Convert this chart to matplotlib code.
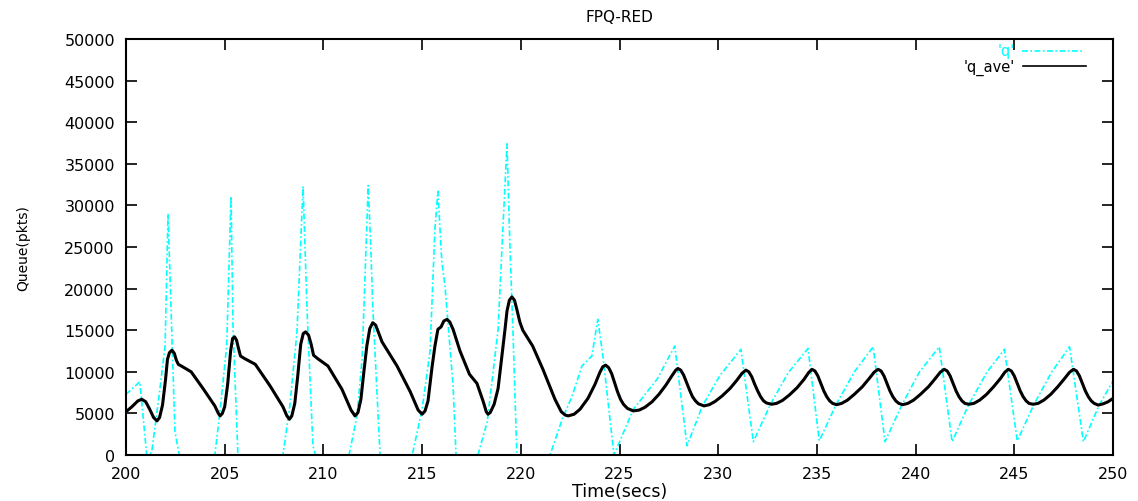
import matplotlib
matplotlib.use("Agg")
import matplotlib.pyplot as plt
from matplotlib.lines import Line2D

# instantaneous queue 'q'
q_t = [200.0, 200.7, 201.05, 201.3, 201.7, 201.98, 202.13, 202.33, 202.48, 202.7,
       204.5, 204.76, 205.1, 205.32, 205.42, 205.67,
       207.95, 208.3, 208.66, 208.97, 209.17, 209.47, 209.6,
       211.3, 211.7, 211.96, 212.27, 212.4, 212.5, 212.87,
       214.5, 215.0, 215.4, 215.65, 215.8, 216.0, 216.16, 216.57, 216.72,
       217.83, 218.3, 218.85, 219.05, 219.3, 219.45, 219.6, 219.8,
       221.48, 222.1, 222.6, 223.1, 223.6, 223.9, 224.16, 224.72,
       225.7, 226.9, 227.8, 228.42, 229.2, 230.1, 231.15,
       231.78, 232.65, 233.55, 234.55, 235.12, 235.98, 236.9, 237.85,
       238.45, 239.3, 240.2, 241.2, 241.85, 242.7, 243.6, 244.5,
       245.15, 246.0, 246.9, 247.8, 248.5, 249.3, 250.0]
q_v = [7300, 8800, 0, 300, 7600, 13100, 29000, 13900, 2800, 0,
       0, 5200, 13100, 31100, 15500, 0,
       0, 5900, 14800, 32300, 17500, 1100, 0,
       0, 4700, 11500, 32400, 25000, 17900, 0,
       0, 5500, 12400, 27200, 31700, 23200, 20300, 8300, 0,
       0, 4000, 15100, 25100, 37400, 25100, 15100, 0,
       0, 4300, 7100, 10700, 11900, 16300, 11900, 0,
       5500, 9100, 13100, 1100, 5900, 9600, 12700,
       1600, 6100, 9900, 12800, 1700, 6100, 10000, 13000,
       1600, 6000, 10000, 13000, 1600, 6100, 9900, 12700,
       1700, 6100, 10000, 13000, 1600, 6000, 8900]

# averaged queue 'q_ave'
qa_t = [200.0, 200.3, 200.6, 200.8, 201.0, 201.2, 201.4, 201.57, 201.7, 201.85,
        202.0, 202.1, 202.2, 202.33, 202.45, 202.55, 202.65, 202.8, 203.3, 203.9,
        204.5, 204.68, 204.77, 204.88, 205.0, 205.15, 205.3, 205.4, 205.5, 205.6,
        205.7, 205.8, 206.0, 206.55, 207.3, 207.95, 208.15, 208.28, 208.4, 208.55,
        208.7, 208.85, 208.98, 209.1, 209.25, 209.38, 209.5, 209.7, 210.23, 210.94,
        211.4, 211.6, 211.75, 211.9, 212.05, 212.2, 212.35, 212.5, 212.65, 212.97,
        213.73, 214.4, 214.8, 215.0, 215.15, 215.3, 215.5, 215.65, 215.8, 215.96,
        216.1, 216.26, 216.4, 216.57, 216.92, 217.4, 217.78, 218.1, 218.25, 218.34,
        218.45, 218.65, 218.85, 219.0, 219.2, 219.3, 219.42, 219.55, 219.68, 219.8,
        219.95, 220.1, 220.6, 221.12, 221.73, 222.05, 222.25, 222.4, 222.7, 223.0,
        223.4, 223.76, 224.0, 224.15, 224.3, 224.45, 224.6, 224.75, 224.9, 225.05,
        225.2, 225.4, 225.7, 226.0, 226.3, 226.65, 227.0, 227.35, 227.65, 227.85,
        227.96, 228.1, 228.25, 228.4, 228.55, 228.7, 228.85, 229.0, 229.28, 229.55,
        229.85, 230.2, 230.6, 230.95, 231.2, 231.4, 231.55, 231.7, 231.85, 232.0,
        232.15, 232.3, 232.45, 232.7, 232.95, 233.25, 233.6, 234.0, 234.35, 234.58,
        234.75, 234.9, 235.05, 235.2, 235.35, 235.5, 235.65, 235.8, 236.0, 236.25,
        236.55, 236.9, 237.3, 237.65, 237.9, 238.1, 238.25, 238.4, 238.55, 238.7,
        238.85, 239.0, 239.15, 239.35, 239.6, 239.9, 240.25, 240.65, 241.0, 241.25,
        241.45, 241.6, 241.75, 241.9, 242.05, 242.2, 242.35, 242.5, 242.7, 242.95,
        243.25, 243.6, 243.95, 244.3, 244.52, 244.7, 244.85, 245.0, 245.15, 245.3,
        245.45, 245.6, 245.75, 245.95, 246.2, 246.5, 246.85, 247.2, 247.55, 247.8,
        248.0, 248.15, 248.3, 248.45, 248.6, 248.75, 248.9, 249.05, 249.25, 249.5,
        249.75, 250.0]
qa_v = [5200, 5800, 6500, 6700, 6400, 5500, 4500, 4100, 4500, 6000,
        9000, 11500, 12300, 12600, 12200, 11400, 10900, 10700, 10000, 8000,
        5900, 5000, 4700, 5000, 5800, 8500, 12500, 14000, 14200, 13800,
        12800, 11900, 11600, 10900, 8300, 5800, 4700, 4300, 4700, 6200,
        9500, 13300, 14600, 14800, 14400, 13300, 12000, 11600, 10700, 7900,
        5400, 4700, 5100, 6700, 10000, 13100, 15200, 15900, 15600, 13600,
        10700, 7600, 5400, 4900, 5300, 6500, 10500, 13100, 15100, 15400,
        16100, 16300, 16000, 15100, 12500, 9700, 8600, 6400, 5200, 4900,
        5100, 6100, 8000, 11000, 15100, 17300, 18600, 19000, 18600, 17500,
        16000, 15000, 13100, 10300, 6700, 5200, 4800, 4700, 4900, 5500,
        6800, 8500, 9900, 10600, 10800, 10500, 9800, 8700, 7600, 6700,
        6100, 5600, 5300, 5400, 5750, 6400, 7300, 8400, 9500, 10200,
        10400, 10200, 9600, 8700, 7800, 7000, 6500, 6150, 5900, 6050,
        6450, 7100, 8000, 9000, 9800, 10200, 10000, 9400, 8500, 7700,
        7000, 6500, 6250, 6100, 6200, 6550, 7200, 8100, 9100, 9900,
        10300, 10100, 9500, 8600, 7700, 7000, 6500, 6200, 6050, 6200,
        6600, 7300, 8200, 9200, 9950, 10300, 10100, 9500, 8600, 7700,
        7000, 6500, 6200, 6050, 6200, 6600, 7300, 8200, 9200, 9950,
        10300, 10100, 9500, 8600, 7700, 7000, 6500, 6200, 6100, 6200,
        6600, 7300, 8200, 9200, 9950, 10300, 10100, 9500, 8600, 7700,
        7000, 6500, 6200, 6100, 6200, 6600, 7300, 8200, 9200, 9950,
        10300, 10100, 9500, 8600, 7700, 7000, 6500, 6200, 6000, 6150,
        6400, 6800]

x_ticks = list(range(200, 251, 5))
y_ticks = list(range(0, 50001, 5000))

CYAN = "#00ffff"
plt.rcParams["font.family"] = ["DejaVu Sans"]

fig = plt.figure(figsize=(11.38, 5.02), dpi=100)
ax = fig.add_axes([126 / 1138, 1 - 456 / 502, 987 / 1138, 416 / 502])

cyan_style = (0, (3.5, 1.5, 1.0, 1.5))
ax.plot(q_t, q_v, color=CYAN, lw=1.2, linestyle=cyan_style)
ax.plot(qa_t, qa_v, color="black", lw=2.2, solid_joinstyle="round")

ax.set_xlim(200, 250)
ax.set_ylim(0, 50000)
ax.set_xticks(x_ticks)
ax.set_yticks(y_ticks)
ax.tick_params(direction="in", length=8, width=1.2, top=True, right=True,
               labelsize=11.5, pad=8)
for sp in ax.spines.values():
    sp.set_linewidth(1.5)

ax.set_title("FPQ-RED", fontsize=11, pad=13)
ax.set_xlabel("Time(secs)", fontsize=12.5, labelpad=1)
ax.set_ylabel("Queue(pkts)", fontsize=10)
ax.yaxis.set_label_coords(-0.097, 0.5)

# gnuplot-style key, text right aligned next to the sample line
ax.text(0.901, 0.972, "'q'", color=CYAN, ha="right", va="center",
        fontsize=10.5, transform=ax.transAxes)
ax.text(0.901, 0.934, "'q_ave'", color="black", ha="right", va="center",
        fontsize=10.5, transform=ax.transAxes)
ax.add_line(Line2D([0.908, 0.969], [0.971, 0.971], color=CYAN, lw=1.2,
                   linestyle=cyan_style, transform=ax.transAxes))
ax.add_line(Line2D([0.909, 0.973], [0.936, 0.936], color="black", lw=1.2,
                   transform=ax.transAxes))

fig.savefig("out.png", dpi=100)
